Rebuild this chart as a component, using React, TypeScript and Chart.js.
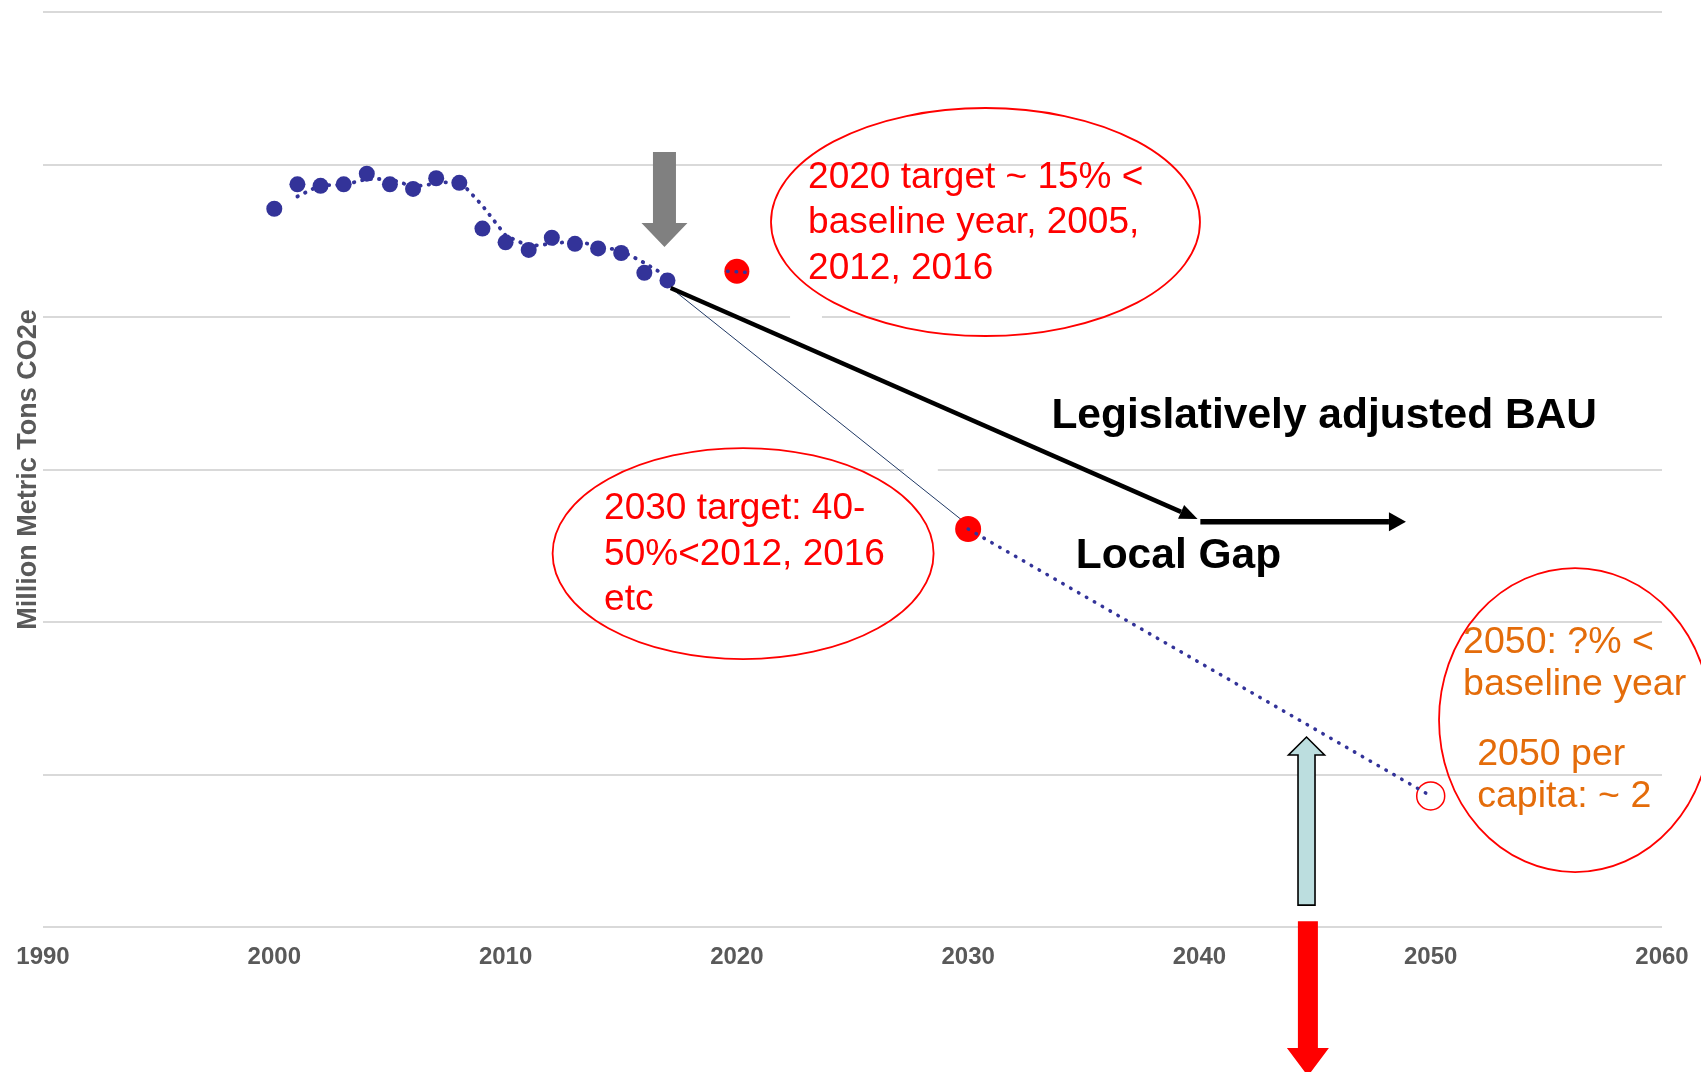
import React, { useEffect, useRef } from 'react';
import { Chart, registerables } from 'chart.js';

Chart.register(...registerables);

// ---- data ----
const years = [2000, 2001, 2002, 2003, 2004, 2005, 2006, 2007, 2008, 2009, 2010, 2011, 2012, 2013, 2014, 2015, 2016, 2017];
const emissions = [47.1, 48.7, 48.6, 48.7, 49.4, 48.7, 48.4, 49.1, 48.8, 45.8, 44.9, 44.4, 45.2, 44.8, 44.5, 44.2, 42.9, 42.4];

const targetYears = [2020, 2030, 2050];
const targetValues = [43.0, 26.1, 8.6];

const pathwayYears = [2030, 2050];
const pathwayValues = [26.1, 8.6];

const trendYears = [2017.4, 2029.8];
const trendValues = [41.6, 26.6];

const stubYears = [2019.6, 2020.7];
const stubValues = [43.0, 42.9];

const xTicks = [1990, 2000, 2010, 2020, 2030, 2040, 2050, 2060];

const yTitle = 'Million Metric Tons CO2e';
const target2020Lines = ['2020 target ~ 15% <', 'baseline year, 2005,', '2012, 2016'];
const target2030Lines = ['2030 target: 40-', '50%<2012, 2016', 'etc'];
const target2050Lines = ['2050: ?% <', 'baseline year'];
const perCapitaLines = ['2050 per', 'capita: ~ 2'];
const bauLabel = 'Legislatively adjusted BAU';
const gapLabel = 'Local Gap';

const FONT = '"Liberation Sans", Arial, Helvetica, sans-serif';
const BLUE = '#333399';
const RED = '#FF0000';
const ORANGE = '#E46C0A';

const toPts = (xs: number[], ys: number[]) => xs.map((x, i) => ({ x, y: ys[i] }));

// Excel-style 2-period moving-average trendline of the emissions series
const movingAverage = years.slice(1).map((yr, i) => ({ x: yr, y: (emissions[i] + emissions[i + 1]) / 2 }));

function drawLineArrow(ctx: CanvasRenderingContext2D, x0: number, y0: number, x1: number, y1: number, w: number, headLen: number, headW: number, color: string) {
  const ang = Math.atan2(y1 - y0, x1 - x0);
  const bx = x1 - headLen * Math.cos(ang);
  const by = y1 - headLen * Math.sin(ang);
  ctx.save();
  ctx.strokeStyle = color;
  ctx.fillStyle = color;
  ctx.lineWidth = w;
  ctx.lineCap = 'butt';
  ctx.beginPath();
  ctx.moveTo(x0, y0);
  ctx.lineTo(bx, by);
  ctx.stroke();
  const px = -Math.sin(ang) * headW / 2;
  const py = Math.cos(ang) * headW / 2;
  ctx.beginPath();
  ctx.moveTo(x1, y1);
  ctx.lineTo(bx + px, by + py);
  ctx.lineTo(bx - px, by - py);
  ctx.closePath();
  ctx.fill();
  ctx.restore();
}

function drawBlockArrow(ctx: CanvasRenderingContext2D, cx: number, yStart: number, yBase: number, yTip: number, shaftW: number, headW: number, fill: string, stroke?: string) {
  ctx.save();
  ctx.beginPath();
  ctx.moveTo(cx - shaftW / 2, yStart);
  ctx.lineTo(cx + shaftW / 2, yStart);
  ctx.lineTo(cx + shaftW / 2, yBase);
  ctx.lineTo(cx + headW / 2, yBase);
  ctx.lineTo(cx, yTip);
  ctx.lineTo(cx - headW / 2, yBase);
  ctx.lineTo(cx - shaftW / 2, yBase);
  ctx.closePath();
  ctx.fillStyle = fill;
  ctx.fill();
  if (stroke) {
    ctx.strokeStyle = stroke;
    ctx.lineWidth = 1.6;
    ctx.stroke();
  }
  ctx.restore();
}

const annotations = {
  id: 'annotations',
  beforeDatasetsDraw(chart: any) {
    const { ctx, scales } = chart;
    const X = (v: number) => scales.x.getPixelForValue(v);
    const Y = (v: number) => scales.y.getPixelForValue(v);
    // white text-box backgrounds that interrupt two gridlines
    ctx.save();
    ctx.fillStyle = '#FFFFFF';
    [[2022.3, 2023.68, 40], [2027.22, 2028.69, 30]].forEach(([a, b, v]) => {
      ctx.fillRect(X(a), Y(v) - 3, X(b) - X(a), 6);
    });
    ctx.restore();
  },
  afterDraw(chart: any) {
    const { ctx, scales } = chart;
    const X = (v: number) => scales.x.getPixelForValue(v);
    const Y = (v: number) => scales.y.getPixelForValue(v);

    // BAU arrows
    drawLineArrow(ctx, X(2017.14), Y(41.9), X(2039.92), Y(26.75), 4.5, 18, 15, '#000000');
    drawLineArrow(ctx, X(2040.04), Y(26.58), X(2048.93), Y(26.58), 5.5, 17, 19, '#000000');

    // block arrows
    drawBlockArrow(ctx, X(2016.87), Y(50.82), Y(46.16), Y(44.59), 23, 46, '#808080');
    drawBlockArrow(ctx, X(2044.63), Y(1.44), Y(11.28), Y(12.46), 17, 36, '#BCDEDF', '#000000');
    drawBlockArrow(ctx, X(2044.69), Y(0.39), Y(-7.93), Y(-9.77), 20, 42, RED);

    // ellipses
    ctx.save();
    ctx.strokeStyle = RED;
    ctx.lineWidth = 1.8;
    [[2030.75, 46.23, 214.5, 114], [2020.27, 24.49, 190.5, 105.5], [2056.24, 13.57, 136, 152]].forEach(([cx, cy, rx, ry]) => {
      ctx.beginPath();
      ctx.ellipse(X(cx), Y(cy), rx, ry, 0, 0, Math.PI * 2);
      ctx.stroke();
    });
    ctx.restore();

    // texts
    ctx.save();
    ctx.textAlign = 'left';
    ctx.textBaseline = 'alphabetic';
    ctx.font = `37px ${FONT}`;
    ctx.fillStyle = RED;
    [48.43, 45.51, 42.49].forEach((v, i) => ctx.fillText(target2020Lines[i], X(2023.08), Y(v)));
    [26.75, 23.74, 20.79].forEach((v, i) => ctx.fillText(target2030Lines[i], X(2014.26), Y(v)));
    ctx.fillStyle = ORANGE;
    ctx.font = `37.5px ${FONT}`;
    [17.97, 15.21].forEach((v, i) => ctx.fillText(target2050Lines[i], X(2051.4), Y(v)));
    [10.62, 7.87].forEach((v, i) => ctx.fillText(perCapitaLines[i], X(2052.01), Y(v)));
    ctx.fillStyle = '#000000';
    ctx.font = `bold 42.5px ${FONT}`;
    ctx.fillText(bauLabel, X(2033.6), Y(32.72));
    ctx.fillText(gapLabel, X(2034.65), Y(23.54));
    ctx.restore();
  },
};

export default function App() {
  const ref = useRef<HTMLCanvasElement | null>(null);

  useEffect(() => {
    if (!ref.current) return;
    const chart = new Chart(ref.current, {
      type: 'scatter',
      data: {
        datasets: [
          {
            label: 'Pathway',
            data: toPts(pathwayYears, pathwayValues),
            showLine: true,
            borderColor: BLUE,
            borderWidth: 3.5,
            borderDash: [0.5, 8.6],
            borderCapStyle: 'round',
            pointRadius: 0,
            order: 1,
          },
          {
            label: 'Stub',
            data: toPts(stubYears, stubValues),
            showLine: true,
            borderColor: BLUE,
            borderWidth: 3.5,
            borderDash: [0.5, 8],
            borderCapStyle: 'round',
            pointRadius: 0,
            order: 1,
          },
          {
            label: 'Emissions',
            data: toPts(years, emissions),
            showLine: false,
            pointRadius: 8,
            pointBackgroundColor: BLUE,
            pointBorderWidth: 0,
            order: 2,
          },
          {
            label: '2-yr moving average',
            data: movingAverage,
            showLine: true,
            borderColor: BLUE,
            borderWidth: 3.8,
            borderDash: [0.5, 8],
            borderCapStyle: 'round',
            pointRadius: 0,
            order: 3,
          },
          {
            label: 'Targets',
            data: toPts(targetYears, targetValues),
            showLine: false,
            pointRadius: [12.5, 13, 14],
            pointBackgroundColor: [RED, RED, 'rgba(0,0,0,0)'],
            pointBorderColor: RED,
            pointBorderWidth: [0, 0, 1.5],
            order: 4,
          },
          {
            label: 'Trend',
            data: toPts(trendYears, trendValues),
            showLine: true,
            borderColor: '#1F3864',
            borderWidth: 1,
            pointRadius: 0,
            order: 5,
          },
        ],
      } as any,
      options: {
        animation: false,
        responsive: false,
        maintainAspectRatio: false,
        layout: { autoPadding: false, padding: { left: 0, top: 12, right: 39, bottom: 84.2 } },
        plugins: { legend: { display: false }, tooltip: { enabled: false } },
        scales: {
          x: {
            type: 'linear',
            min: 1990,
            max: 2060,
            afterBuildTicks: (axis: any) => {
              axis.ticks = xTicks.map((value) => ({ value }));
            },
            grid: { display: false, drawTicks: false },
            border: { display: false },
            ticks: {
              padding: 12,
              color: '#595959',
              autoSkip: false,
              maxRotation: 0,
              font: { family: FONT, size: 24, weight: 'bold', lineHeight: 1.53 },
              callback: (v: any) => String(v),
            },
          },
          y: {
            min: 0,
            max: 60,
            ticks: { display: false, stepSize: 10 },
            grid: { color: '#D9D9D9', lineWidth: 2, drawTicks: false },
            border: { display: false },
            title: {
              display: true,
              text: yTitle,
              color: '#595959',
              font: { family: FONT, size: 27, weight: 'bold', lineHeight: 1 },
              padding: { top: 15, bottom: 1 },
            },
          },
        },
      } as any,
      plugins: [annotations],
    });
    return () => chart.destroy();
  }, []);

  return (
    <div style={{ position: 'absolute', left: 0, top: 0, width: 1701, height: 1072, background: '#FFFFFF' }}>
      <canvas ref={ref} width={1701} height={1072} style={{ width: 1701, height: 1072, display: 'block' }} />
    </div>
  );
}
